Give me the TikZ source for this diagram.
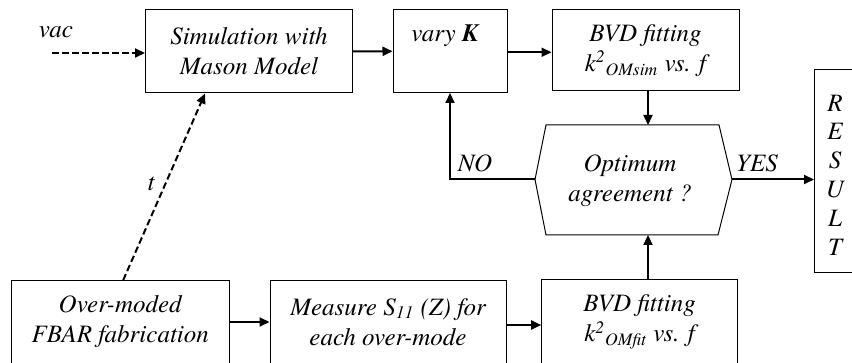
\documentclass[tikz,border=0pt]{standalone}
\usepackage{fontspec}
\setmainfont{texgyretermes}[Extension=.otf,UprightFont=*-regular,ItalicFont=*-italic,BoldFont=*-bold,BoldItalicFont=*-bolditalic]
\usetikzlibrary{arrows.meta,calc}
\begin{document}
\fontsize{12.5}{15}\selectfont\itshape
\begin{tikzpicture}[x=0.5pt,y=-0.5pt,
  box/.style={draw,line width=0.5pt,inner sep=0pt,align=center},
  arr/.style={line width=1pt,-{Triangle[length=5pt,width=4.5pt]}},
  darr/.style={arr,dash pattern=on 3.3pt off 1.7pt},
  lbl/.style={inner sep=0pt}]
\useasboundingbox (0,0) rectangle (852,363);
% top row
\node[box,minimum width=103.5pt,minimum height=41.5pt] (sim) at (249,51.5) {Simulation with\\Mason Model};
\node[box,minimum width=57pt,minimum height=41.25pt] (vary) at (450,51.25) {};
\node[lbl,anchor=base] (varyt) at (445,42) {vary \textbf{K}};
\node[box,minimum width=93.5pt,minimum height=40.5pt] (bvda) at (645.5,50.5)
  {BVD fitting\\k\textsuperscript{2}\textsubscript{OMsim} vs. f};
% decision hexagon
\coordinate (hexL) at (535,179.5);
\coordinate (hexR) at (732,179.5);
\coordinate (hexT) at (648,125);
\coordinate (hexB) at (648,235);
\draw[line width=0.5pt] (546,125) -- (719,125) -- (hexR) -- (718,235) -- (546,235) -- (hexL) -- cycle;
\node[lbl,align=center] (opt) at (630,181) {Optimum\\agreement ?};
% result
\node[draw,line width=0.5pt,minimum width=20.5pt,minimum height=101.25pt] (res) at (835,171.25) {};
\node[lbl,align=center,font=\fontsize{12.5}{14.4}\selectfont\itshape] (rest) at (835,175) {R\\E\\S\\U\\L\\T};
% bottom row
\node[box,minimum width=109.15pt,minimum height=41.3pt] (om) at (120.2,322) {Over-moded\\FBAR fabrication};
\node[box,minimum width=118pt,minimum height=41.5pt] (meas) at (388,322) {Measure S\textsubscript{11} (Z) for\\each over-mode};
\node[box,minimum width=97.9pt,minimum height=42pt] (bvdb) at (639.6,322)
  {BVD fitting\\k\textsuperscript{2}\textsubscript{OMfit} vs. f};
% labels
\node[lbl,anchor=base] (vacl) at (56,37.5) {vac};
\node[lbl,anchor=base] (tl) at (151,191) {t};
\node[lbl,anchor=base] (nol) at (475,172) {NO};
\node[lbl,anchor=base] (yesl) at (757,172) {YES};
% connectors
\coordinate (vacs) at (52,53);
\draw[darr] (vacs) -- (vacs -| sim.west);
\draw[arr] (sim.east) -- (vary.west);
\draw[arr] ([yshift=-0.5pt]vary.east) -- ([yshift=-0.5pt]vary.east -| bvda.west);
\draw[arr] (hexT |- bvda.south) -- (hexT);
\draw[arr] (hexL) -| (vary.south);
\draw[arr] (hexR) -- (hexR -| res.west);
\draw[arr] (om.east) -- (meas.west);
\draw[arr] ([yshift=-1.5pt]meas.east) -- ([yshift=-1.5pt]meas.east -| bvdb.west);
\draw[arr] (hexB |- bvdb.north) -- (hexB);
\draw[darr] ($(om.north)+(3,0)$) -- ($(sim.south)+(-44,0)$);
\end{tikzpicture}
\end{document}
